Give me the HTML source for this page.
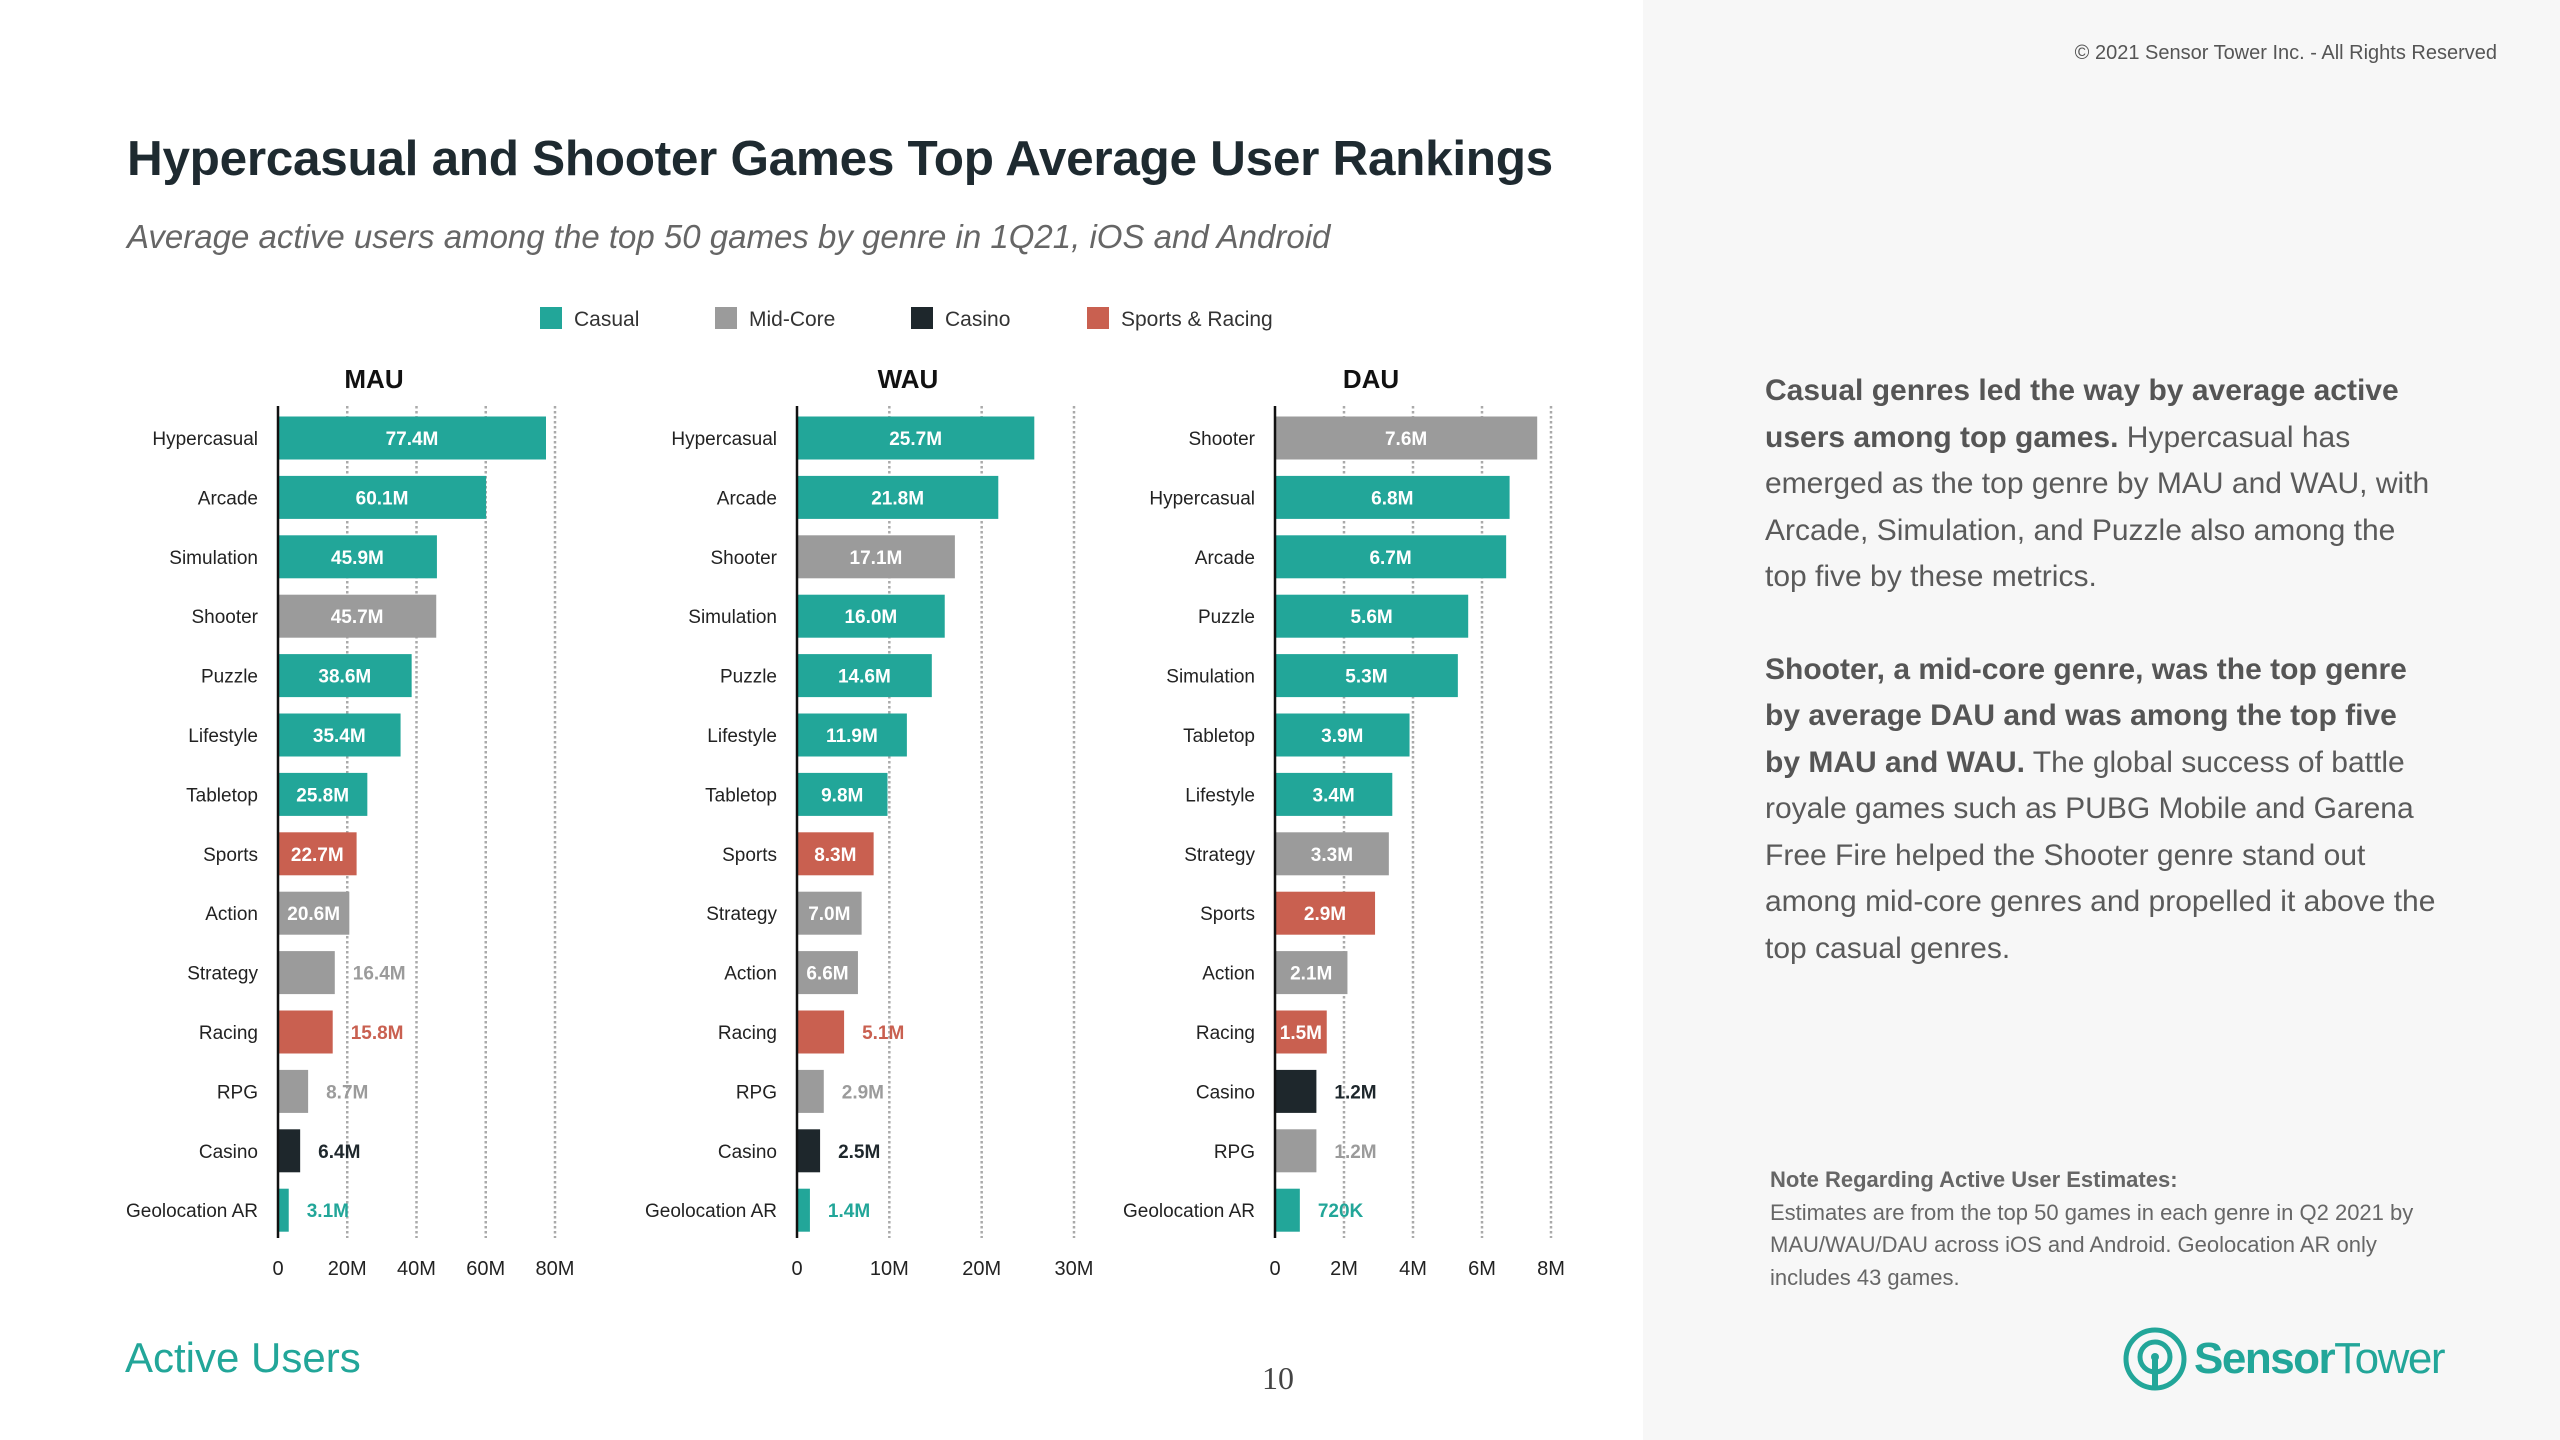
<!DOCTYPE html>
<html><head><meta charset="utf-8"><style>
html,body{margin:0;padding:0;width:2560px;height:1440px;overflow:hidden;background:#fff;font-family:"Liberation Sans",sans-serif;}
#right{position:absolute;left:1643px;top:0;width:917px;height:1440px;background:#f7f7f7;}
.abs{position:absolute;}
#para{left:1765px;top:368px;width:675px;font-size:30px;line-height:46.5px;color:#5a5a5a;}
#para b{color:#555;}
#note{left:1770px;top:1164px;width:680px;font-size:22px;line-height:32.5px;color:#666;}
</style></head><body>
<div id="right"></div>
<div class="abs" style="right:63px;top:42px;font-size:20px;color:#555;">© 2021 Sensor Tower Inc. - All Rights Reserved</div>
<div class="abs" style="left:127px;top:130px;font-size:49.5px;font-weight:bold;color:#1e2a30;letter-spacing:-0.3px;">Hypercasual and Shooter Games Top Average User Rankings</div>
<div class="abs" style="left:127px;top:218px;font-size:33px;font-style:italic;color:#666;">Average active users among the top 50 games by genre in 1Q21, iOS and Android</div>
<div class="abs" id="para"><p style="margin:0 0 46px 0"><b>Casual genres led the way by average active users among top games.</b> Hypercasual has emerged as the top genre by MAU and WAU, with Arcade, Simulation, and Puzzle also among the top five by these metrics.</p><p style="margin:0"><b>Shooter, a mid-core genre, was the top genre by average DAU and was among the top five by MAU and WAU.</b> The global success of battle royale games such as PUBG Mobile and Garena Free Fire helped the Shooter genre stand out among mid-core genres and propelled it above the top casual genres.</p></div>
<div class="abs" id="note"><b>Note Regarding Active User Estimates:</b><br>Estimates are from the top 50 games in each genre in Q2 2021 by MAU/WAU/DAU across iOS and Android. Geolocation AR only includes 43 games.</div>
<div class="abs" style="left:125px;top:1334px;font-size:42px;color:#22a699;">Active Users</div>
<div class="abs" style="left:1262px;top:1360px;font-size:32px;color:#444;font-family:'Liberation Serif',serif;">10</div>
<div class="abs" style="left:2122px;top:1326px;height:66px;display:flex;align-items:center;">
<svg width="66" height="66" viewBox="0 0 66 66"><circle cx="33" cy="33" r="29" fill="none" stroke="#22a699" stroke-width="5"/><circle cx="33" cy="31" r="15" fill="none" stroke="#22a699" stroke-width="5"/><circle cx="33" cy="31" r="4" fill="#22a699"/><rect x="30" y="31" width="6" height="30" fill="#22a699"/></svg>
<span style="font-size:44px;color:#22a699;margin-left:6px;letter-spacing:-1.5px;"><b>Sensor</b>Tower</span></div>
<svg id="chart" class="abs" style="left:0;top:0" width="2560" height="1440"></svg>
<script>
const categories = {
 MAU:["Hypercasual","Arcade","Simulation","Shooter","Puzzle","Lifestyle","Tabletop","Sports","Action","Strategy","Racing","RPG","Casino","Geolocation AR"],
 WAU:["Hypercasual","Arcade","Shooter","Simulation","Puzzle","Lifestyle","Tabletop","Sports","Strategy","Action","Racing","RPG","Casino","Geolocation AR"],
 DAU:["Shooter","Hypercasual","Arcade","Puzzle","Simulation","Tabletop","Lifestyle","Strategy","Sports","Action","Racing","Casino","RPG","Geolocation AR"]
};
const mauValues = [77.4,60.1,45.9,45.7,38.6,35.4,25.8,22.7,20.6,16.4,15.8,8.7,6.4,3.1];
const wauValues = [25.7,21.8,17.1,16.0,14.6,11.9,9.8,8.3,7.0,6.6,5.1,2.9,2.5,1.4];
const dauValues = [7.6,6.8,6.7,5.6,5.3,3.9,3.4,3.3,2.9,2.1,1.5,1.2,1.2,0.72];
const mauLabels = ["77.4M","60.1M","45.9M","45.7M","38.6M","35.4M","25.8M","22.7M","20.6M","16.4M","15.8M","8.7M","6.4M","3.1M"];
const wauLabels = ["25.7M","21.8M","17.1M","16.0M","14.6M","11.9M","9.8M","8.3M","7.0M","6.6M","5.1M","2.9M","2.5M","1.4M"];
const dauLabels = ["7.6M","6.8M","6.7M","5.6M","5.3M","3.9M","3.4M","3.3M","2.9M","2.1M","1.5M","1.2M","1.2M","720K"];
const mauTicks = [0,20,40,60,80], mauTickLabels=["0","20M","40M","60M","80M"];
const wauTicks = [0,10,20,30], wauTickLabels=["0","10M","20M","30M"];
const dauTicks = [0,2,4,6,8], dauTickLabels=["0","2M","4M","6M","8M"];
const genreType = {Hypercasual:"casual",Arcade:"casual",Simulation:"casual",Puzzle:"casual",Lifestyle:"casual",Tabletop:"casual","Geolocation AR":"casual",Shooter:"mid",Action:"mid",Strategy:"mid",RPG:"mid",Casino:"casino",Sports:"sport",Racing:"sport"};
const legendNames = ["Casual","Mid-Core","Casino","Sports & Racing"];
const colors = {casual:"#22a699",mid:"#9b9b9b",casino:"#1e272c",sport:"#c96050"};
const legendKeys=["casual","mid","casino","sport"];

const NS="http://www.w3.org/2000/svg", svg=document.getElementById('chart');
function mk(tag,attrs,parent){const e=document.createElementNS(NS,tag);for(const k in attrs)e.setAttribute(k,attrs[k]);(parent||svg).appendChild(e);return e;}

const legX=[540,715,911,1087];
legendNames.forEach((n,i)=>{
 const r=mk('rect',{x:legX[i],y:307,width:22,height:22,fill:colors[legendKeys[i]]});
 
 
 const t=mk('text',{x:legX[i]+34,y:326,'font-size':21,fill:'#333'});t.textContent=n;
 
 
});

const panels=[
 {name:'MAU',vals:mauValues,labs:mauLabels,ticks:mauTicks,tl:mauTickLabels,x0:278,max:80,x1:555,inside:18,tx:374},
 {name:'WAU',vals:wauValues,labs:wauLabels,ticks:wauTicks,tl:wauTickLabels,x0:797,max:30,x1:1074,inside:6,tx:908},
 {name:'DAU',vals:dauValues,labs:dauLabels,ticks:dauTicks,tl:dauTickLabels,x0:1275,max:8,x1:1551,inside:1.4,tx:1371}
];
const y0=438, step=59.4, bh=43;
panels.forEach(p=>{
 const xs=v=>p.x0+(v/p.max)*(p.x1-p.x0);
 const g=mk('g',{});
 
 
 const title=mk('text',{x:p.tx,y:388,'font-size':26,'font-weight':'bold','text-anchor':'middle',fill:'#111'},g);title.textContent=p.name;
 
 
 p.ticks.forEach((t,i)=>{
  if(t>0){const l=mk('line',{x1:xs(t),x2:xs(t),y1:406,y2:1238,stroke:'#aaa','stroke-width':2.5,'stroke-dasharray':'2.5 2.5'},g);
   
   }
  const tt=mk('text',{x:xs(t),y:1275,'font-size':20,'text-anchor':'middle',fill:'#222'},g);tt.textContent=p.tl[i];
  
  
 });
 categories[p.name].forEach((c,i)=>{
  const cy=y0+i*step, v=p.vals[i], col=colors[genreType[c]];
  const lab=mk('text',{x:p.x0-20,y:cy+7,'font-size':19,'text-anchor':'end',fill:'#222'},g);lab.textContent=c;
  
  
  const w=xs(v)-p.x0;
  const b=mk('rect',{x:p.x0,y:cy-bh/2,width:w,height:bh,fill:col},g);
  
  
  let vt;
  if(v>=p.inside){vt=mk('text',{x:p.x0+w/2,y:cy+7,'font-size':19,'font-weight':'bold','text-anchor':'middle',fill:'#fff'},g);}
  else{vt=mk('text',{x:p.x0+w+18,y:cy+7,'font-size':19,'font-weight':'bold',fill:col},g);}
  vt.textContent=p.labs[i];
  
  
 });
 const ax=mk('line',{x1:p.x0,x2:p.x0,y1:406,y2:1238,stroke:'#111','stroke-width':2.5},g);
 
 
});
</script>
</body></html>
